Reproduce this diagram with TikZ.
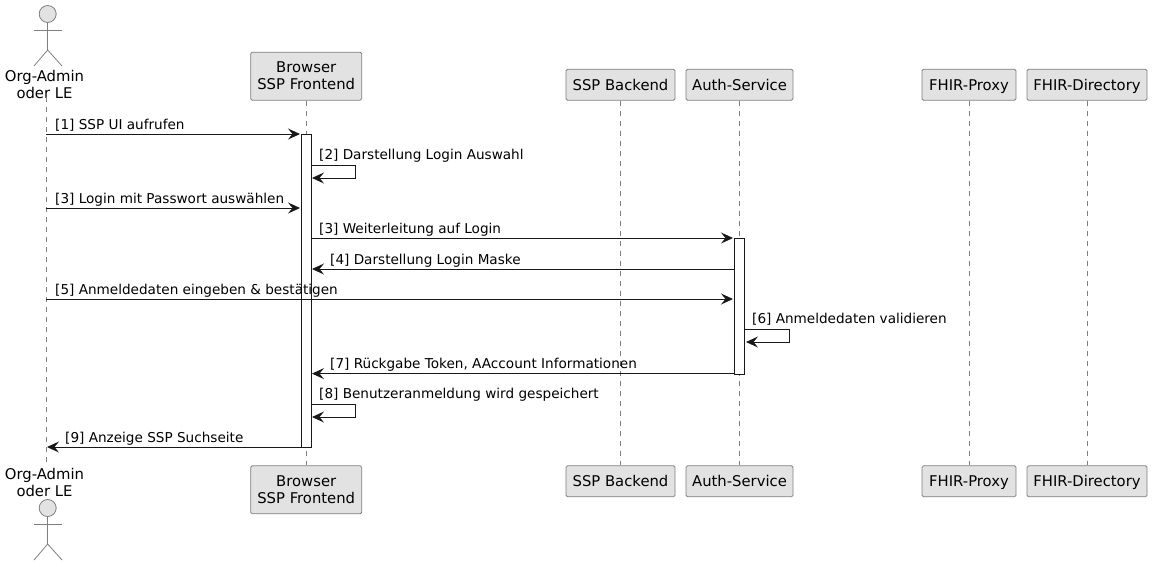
\documentclass[tikz,border=0pt]{standalone}
\usepackage{fontspec}
\setmainfont{DejaVu Sans}
\usetikzlibrary{arrows.meta}
\definecolor{boxfill}{HTML}{E2E2E2}
\definecolor{boxline}{HTML}{7F7F7F}
\definecolor{msgline}{HTML}{181818}
\newcommand\lowstrut{\rule[-3.5pt]{0pt}{18pt}}
\tikzset{
 part/.style={draw=boxline,fill=boxfill,rounded corners=1.5pt,line width=0.8pt,align=center,inner sep=0pt,font=\fontsize{14.8}{17}\selectfont},
 actorlab/.style={align=center,inner sep=0pt,font=\fontsize{14.8}{17}\selectfont},
 limb/.style={draw=boxline,line width=0.8pt},
 lifeline/.style={draw=boxline,line width=0.7pt,dash pattern=on 5pt off 5pt},
 bar/.style={draw=msgline,fill=white,line width=0.9pt,inner sep=0pt},
 msg/.style={draw=msgline,line width=0.9pt,-{Stealth[length=12pt,width=11pt,inset=4.5pt]}},
 msglab/.style={anchor=base west,inner sep=0pt,font=\fontsize{13.6}{16}\selectfont},
}
\begin{document}
\begin{tikzpicture}[x=1pt,y=-1pt]
 \useasboundingbox (0,0) rectangle (1153,566);
 % participants, top and bottom row
 \foreach \name/\x/\w/\h/\ytop/\ybot/\lab in {
   browser/306.2/111/48/76.2/489.8/{Browser\\SSP Frontend},
   backend/620.5/109/31/84.7/481.3/{SSP Backend\lowstrut},
   auth/739.5/107/31/84.7/481.3/{Auth-Service\lowstrut},
   proxy/969/94/31/84.7/481.3/{FHIR-Proxy\lowstrut},
   directory/1087/120/31/84.7/481.3/{FHIR-Directory\lowstrut}} {
  \node[part,minimum width=\w pt,minimum height=\h pt] (\name top) at (\x,\ytop) {\lab};
  \node[part,minimum width=\w pt,minimum height=\h pt] (\name bot) at (\x,\ybot) {\lab};
  \draw[lifeline] (\name top) -- (\name bot);
 }
 % actor, top and bottom
 \node[actorlab] (admintop) at (44.5,84.5) {Org-Admin\\oder LE};
 \node[actorlab] (adminbot) at (44.5,482.5) {Org-Admin\\oder LE};
 \coordinate (adminup) at (46,97);
 \coordinate (admindown) at (46,465);
 \draw[lifeline] (adminup) -- (admindown);
 \foreach \y in {14,508} {
  \draw[limb,fill=boxfill] (47.7,\y) circle (8.5);
  \draw[limb] (47.7,\y+8.5)--(47.7,\y+36) (34,\y+16.5)--(62,\y+16.5);
  \draw[limb] (34,\y+52)--(47.7,\y+36)--(62,\y+52);
 }
 % activation bars
 \node[bar,minimum width=10pt,minimum height=313pt] (browserbar) at (306.2,290.5) {};
 \node[bar,minimum width=10.5pt,minimum height=136pt] (authbar) at (739.5,306) {};
 % messages
 \foreach \id/\xa/\xb/\y/\xlab/\lab in {
   1/46/300/134/55/{[1] SSP UI aufrufen},
   3/46/300/208/55/{[3] Login mit Passwort auswählen},
   4/311/733/238/319/{[3] Weiterleitung auf Login},
   5/734/312/269/330/{[4] Darstellung Login Maske},
   6/46/733/299/55/{[5] Anmeldedaten eingeben \& bestätigen},
   8/734/312/373.6/330/{[7] Rückgabe Token, AAccount Informationen},
   10/301/47/447/65/{[9] Anzeige SSP Suchseite}} {
  \coordinate (m\id a) at (\xa,\y);
  \coordinate (m\id b) at (\xb,\y);
  \draw[msg] (m\id a) -- (m\id b);
  \node[msglab] (lab\id) at (\xlab,\y-5) {\lab};
 }
 % messages to self
 \foreach \id/\xa/\xb/\y/\xlab/\lab in {
   2/311/355/165/319/{[2] Darstellung Login Auswahl},
   7/745/789/329/752/{[6] Anmeldedaten validieren},
   9/311/355/404/319/{[8] Benutzeranmeldung wird gespeichert}} {
  \coordinate (m\id a) at (\xa,\y);
  \coordinate (m\id b) at (\xb,\y+13);
  \coordinate (m\id c) at (\xa+1,\y+13);
  \draw[msg] (m\id a) -| (m\id b) -- (m\id c);
  \node[msglab] (lab\id) at (\xlab,\y-6) {\lab};
 }
\end{tikzpicture}
\end{document}
